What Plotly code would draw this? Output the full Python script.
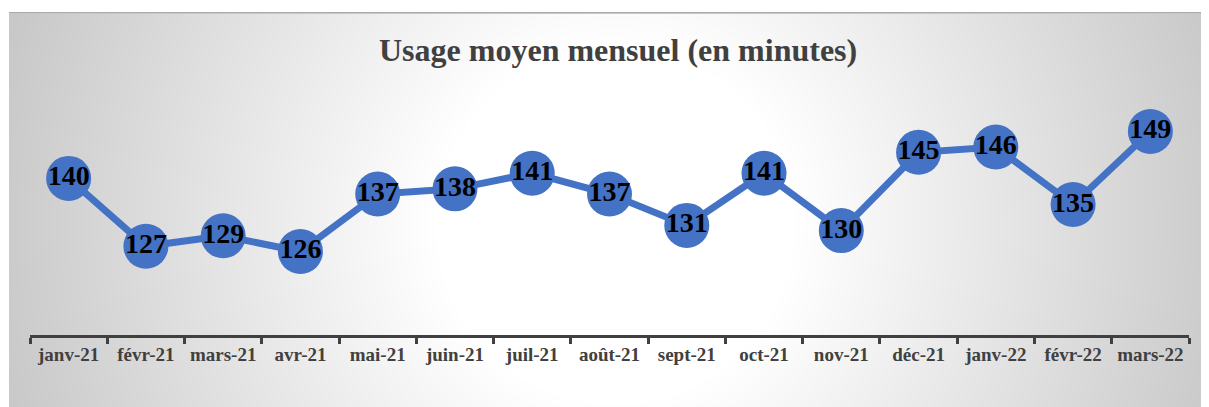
import base64
import struct
import zlib

import numpy as np
import plotly.graph_objects as go

months = ["janv-21", "févr-21", "mars-21", "avr-21", "mai-21", "juin-21", "juil-21",
          "août-21", "sept-21", "oct-21", "nov-21", "déc-21", "janv-22", "févr-22", "mars-22"]
usage = [140, 127, 129, 126, 137, 138, 141, 137, 131, 141, 130, 145, 146, 135, 149]

# the page adds an 8px body margin, so the figure is a bit smaller than the window
W, H = 1201, 399
L, R, T, B = 22, 20, 66, 72


def gradient_png():
    # radial grey-to-white fill of the chart area, like the Excel one
    yy, xx = np.mgrid[0:H, 0:W].astype(float)
    d = np.hypot(xx - 607, yy - 217)
    val = 255 - np.clip((d - 180) * 0.12, 0, 62)
    img = val.astype(np.uint8)
    img[:4, :] = 255
    img[:, :1] = 255
    img[4, 1:] = 170
    img[5, 1:] = 200
    raw = b"".join(b"\x00" + row.tobytes() for row in img)

    def chunk(tag, data):
        c = tag + data
        return struct.pack(">I", len(data)) + c + struct.pack(">I", zlib.crc32(c) & 0xffffffff)

    png = b"\x89PNG\r\n\x1a\n"
    png += chunk(b"IHDR", struct.pack(">IIBBBBB", W, H, 8, 0, 0, 0, 0))
    png += chunk(b"IDAT", zlib.compress(raw, 9))
    png += chunk(b"IEND", b"")
    return "data:image/png;base64," + base64.b64encode(png).decode()


pw = W - L - R
ph = H - T - B

fig = go.Figure()
fig.add_trace(go.Scatter(
    x=months, y=usage,
    mode="lines+markers+text",
    line=dict(color="#4472C4", width=7),
    marker=dict(color="#4472C4", size=45),
    text=[str(v) for v in usage],
    textposition="middle center",
    textfont=dict(family="Liberation Serif", size=28, color="black", weight="bold"),
    cliponaxis=False,
    hoverinfo="x+y",
))

fig.add_layout_image(dict(
    source=gradient_png(),
    xref="paper", yref="paper",
    x=-L / pw, y=1 + T / ph,
    sizex=W / pw, sizey=H / ph,
    sizing="stretch", xanchor="left", yanchor="top",
    layer="below",
))

fig.update_layout(
    width=W, height=H,
    margin=dict(l=L, r=R, t=T, b=B, autoexpand=False),
    paper_bgcolor="white",
    plot_bgcolor="rgba(0,0,0,0)",
    showlegend=False,
    title=dict(
        text="Usage moyen mensuel (en minutes)",
        x=0.508, xanchor="center", y=1 - 42 / H, yanchor="middle",
        font=dict(family="Liberation Serif", size=32, color="#404040", weight="bold"),
    ),
    xaxis=dict(
        showgrid=False, zeroline=False,
        showline=True, linecolor="#404040", linewidth=3,
        ticks="outside", tickson="boundaries", ticklen=6, tickwidth=3, tickcolor="#404040",
        tickangle=0,
        tickfont=dict(family="Liberation Serif", size=19, color="#404040", weight="bold"),
        range=[-0.5, 14.5],
    ),
    yaxis=dict(
        range=[110, 160], visible=False, showgrid=False,
    ),
)

fig.write_html("out.html")
